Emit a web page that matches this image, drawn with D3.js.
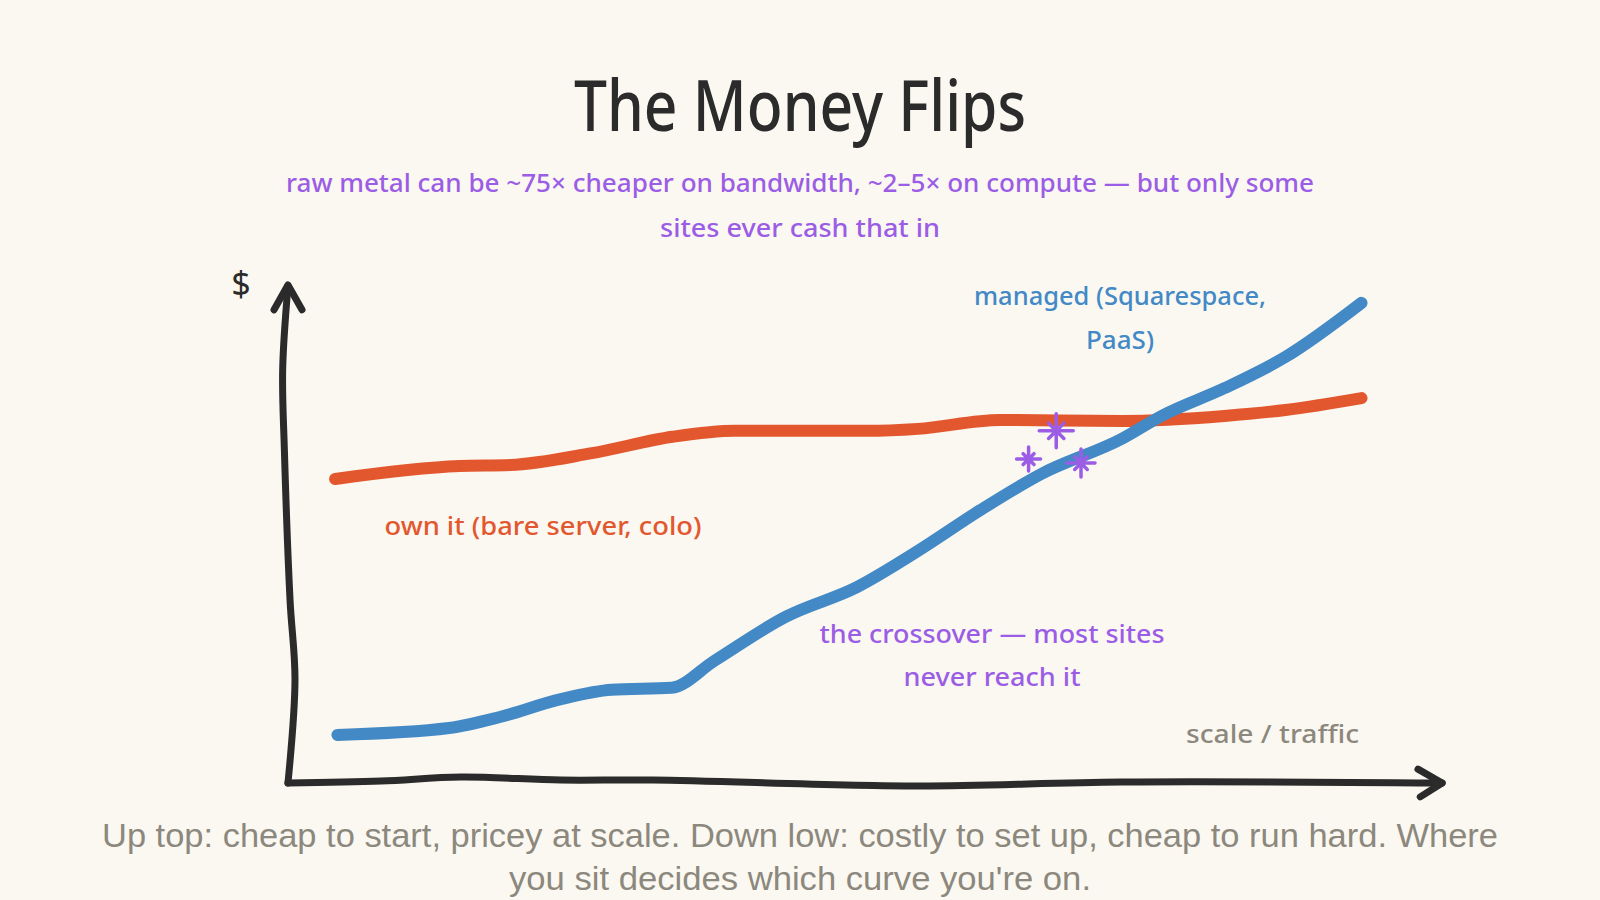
<!DOCTYPE html>
<html>
<head>
<meta charset="utf-8">
<script src="https://cdn.jsdelivr.net/npm/d3@7"></script>
<style>
  html, body { margin: 0; padding: 0; background: #fbf8f1; }
  svg { display: block; }
</style>
</head>
<body>
<svg id="chart" width="1600" height="900"></svg>
<script>
// ---------- data (x = scale/traffic 0..100, y = cost 0..100) ----------
const ownTraffic     = [4.0, 14.8, 19.2, 26.3, 33.3, 38.7, 50.2, 54.6, 61.7, 72.3, 81.2, 86.5, 93.1];
const ownCost        = [61.5, 64.1, 64.3, 66.7, 70.0, 71.2, 71.2, 71.6, 73.4, 73.2, 74.2, 75.4, 77.8];
const managedTraffic = [4.2, 13.9, 18.3, 23.6, 28.0, 33.2, 36.9, 43.1, 49.3, 54.6, 60.0, 65.3, 72.3, 75.9, 81.2, 86.5, 93.1];
const managedCost    = [9.9, 11.3, 13.5, 17.1, 19.0, 19.4, 24.8, 33.7, 39.7, 47.0, 55.2, 62.5, 69.6, 74.4, 79.8, 86.1, 97.0];

// hand-drawn axis wobble (data units)
const yAxisPts = [[-0.09, 0.2], [0.52, 21.0], [0.09, 37.1], [-0.4, 67.3], [-0.55, 83.5], [-0.09, 100.4]];
const yArrow   = [[-1.3, 95.6], [-0.09, 100.6], [1.13, 95.6]];
const xAxisPts = [[-0.09, 0.2], [8, 0.6], [14.9, 1.4], [23.6, 0.8], [31.6, 0.8], [54.6, -0.4], [72.3, 0.4], [100.1, 0.2]];
const xArrow   = [[98.0, 3.0], [100.1, 0.2], [98.2, -2.6]];

// crossover sparkles: [x, y, size]
const sparkles = [[66.6, 71.2, 17], [64.2, 65.5, 12], [68.75, 64.7, 14]];

// texts
const titleText    = "The Money Flips";
const subtitleText = ["raw metal can be ~75× cheaper on bandwidth, ~2–5× on compute — but only some", "sites ever cash that in"];
const managedLabel = ["managed (Squarespace,", "PaaS)"];
const ownLabel     = ["own it (bare server, colo)"];
const crossLabel   = ["the crossover — most sites", "never reach it"];
const xLabel       = "scale / traffic";
const yLabel       = "$";
const captionText  = ["Up top: cheap to start, pricey at scale. Down low: costly to set up, cheap to run hard. Where", "you sit decides which curve you're on."];

// ---------- drawing ----------
const C = { bg: "#fbf8f1", ink: "#2b2b2b", orange: "#e3572e", blue: "#4289c6", purple: "#9b5de5", gray: "#8c887d" };
const HAND = "'Noto Sans', 'Open Sans', sans-serif";

const svg = d3.select("#chart");
svg.append("rect").attr("width", 1600).attr("height", 900).attr("fill", C.bg);

const x = d3.scaleLinear().domain([0, 100]).range([289, 1441]);
const y = d3.scaleLinear().domain([0, 100]).range([784, 288]);

function fitText(sel, target) {
  sel.each(function () {
    const w = this.getComputedTextLength();
    if (target && Math.abs(w - target) > 2) {
      d3.select(this).attr("textLength", target).attr("lengthAdjust", "spacingAndGlyphs");
    }
  });
}

function textBlock(lines, cx, y0, lh, size, color, widths, anchor, weight) {
  lines.forEach((t, i) => {
    const el = svg.append("text")
      .attr("x", cx).attr("y", y0 + i * lh)
      .attr("text-anchor", anchor || "middle")
      .attr("font-family", HAND).attr("font-size", size)
      .attr("font-weight", weight || 400)
      .attr("fill", color).text(t);
    if (widths) fitText(el, widths[i]);
  });
}

// title & subtitle
textBlock([titleText], 800, 131, 0, 71, C.ink, [452], "middle", 500);
textBlock(subtitleText, 800, 192, 45, 26, C.purple, [1028, 280], "middle", 500);

// axes
const axisLine = d3.line().x(d => x(d[0])).y(d => y(d[1])).curve(d3.curveCatmullRom);
const straight = d3.line().x(d => x(d[0])).y(d => y(d[1]));
const axisG = svg.append("g").attr("fill", "none").attr("stroke", C.ink)
  .attr("stroke-width", 7).attr("stroke-linecap", "round").attr("stroke-linejoin", "round");
axisG.append("path").attr("d", axisLine(yAxisPts));
axisG.append("path").attr("d", axisLine(xAxisPts));
axisG.append("path").attr("d", straight(yArrow));
axisG.append("path").attr("d", straight(xArrow));

svg.append("text").attr("x", 241).attr("y", 296).attr("text-anchor", "middle")
  .attr("font-family", HAND).attr("font-size", 34).attr("fill", C.ink).text(yLabel);

// x label
textBlock([xLabel], 1359, 743, 0, 26, C.gray, [173], "end", 500);

// series
const line = d3.line().x(d => x(d[0])).y(d => y(d[1])).curve(d3.curveMonotoneX);
const ownData = ownTraffic.map((t, i) => [t, ownCost[i]]);
const manData = managedTraffic.map((t, i) => [t, managedCost[i]]);

svg.append("path").attr("d", line(ownData)).attr("fill", "none").attr("stroke", C.orange)
  .attr("stroke-width", 12).attr("stroke-linecap", "round").attr("stroke-linejoin", "round");
svg.append("path").attr("d", line(manData)).attr("fill", "none").attr("stroke", C.blue)
  .attr("stroke-width", 12).attr("stroke-linecap", "round").attr("stroke-linejoin", "round");

// sparkles
const sg = svg.append("g").attr("stroke", C.purple).attr("stroke-width", 3.5).attr("stroke-linecap", "round").attr("fill", "none");
sparkles.forEach(([sx, sy, s]) => {
  const cx = x(sx), cy = y(sy), d = s * 0.45;
  sg.append("path").attr("d",
    `M${cx - s},${cy}L${cx + s},${cy}M${cx},${cy - s}L${cx},${cy + s}` +
    `M${cx - d},${cy - d}L${cx + d},${cy + d}M${cx - d},${cy + d}L${cx + d},${cy - d}`);
});

// series labels
textBlock(managedLabel, 1120, 305, 44, 26, C.blue, [292, 70], "middle", 500);
textBlock(ownLabel, 543, 535, 0, 26, C.orange, [317], "middle", 500);
textBlock(crossLabel, 992, 643, 43, 26, C.purple, [345, 177], "middle", 500);

// caption
const capWidths = [1396, 582];
captionText.forEach((t, i) => {
  const el = svg.append("text").attr("x", 800).attr("y", 847 + i * 43).attr("text-anchor", "middle")
    .attr("font-family", "'Liberation Sans', Arial, Helvetica, sans-serif").attr("font-size", 34)
    .attr("fill", C.gray).text(t);
  fitText(el, capWidths[i]);
});
</script>
</body>
</html>
